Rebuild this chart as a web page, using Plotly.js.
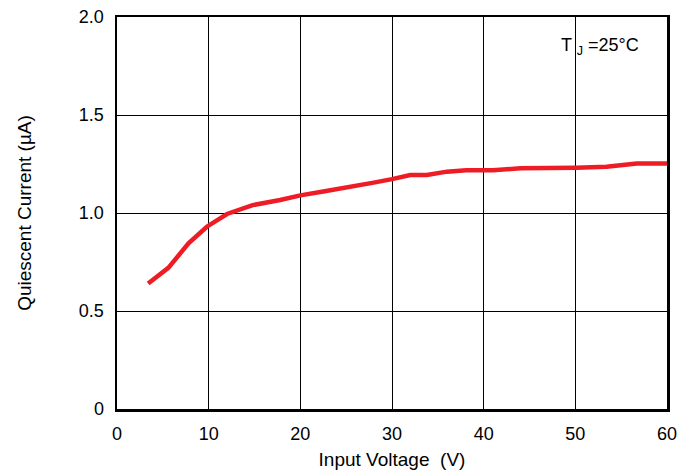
<!DOCTYPE html>
<html>
<head>
<meta charset="utf-8">
<script src="https://cdn.plot.ly/plotly-3.0.1.min.js"></script>
<style>html,body{margin:0;padding:0;background:#fff;}#chart{width:689px;height:473px;}</style>
</head>
<body>
<div id="chart"></div>
<script>
const inputVoltage = [3.4, 5.6, 7.8, 9.8, 12.0, 14.8, 17.8, 20.0, 22.5, 25.4, 28.0, 30.0, 32.0, 33.8, 36.0, 38.1, 41.0, 44.0, 47.2, 50.1, 53.4, 56.7, 60.0];
const quiescentCurrent = [0.64, 0.72, 0.845, 0.93, 0.995, 1.04, 1.066, 1.09, 1.11, 1.131, 1.155, 1.173, 1.194, 1.194, 1.211, 1.218, 1.218, 1.228, 1.228, 1.231, 1.236, 1.253, 1.252];
const xTicks = [0, 10, 20, 30, 40, 50, 60];
const yTicks = [0, 0.5, 1.0, 1.5, 2.0];
const yTickText = ["0", "0.5", "1.0", "1.5", "2.0"];

const font = {family: "Liberation Sans, Arial, sans-serif", size: 18, color: "#000"};
const titleFont = {family: "Liberation Sans, Arial, sans-serif", size: 19, color: "#000"};

Plotly.newPlot("chart", [{
  x: inputVoltage, y: quiescentCurrent, type: "scatter", mode: "lines",
  line: {color: "#ee1c25", width: 4.5, shape: "linear"}, hoverinfo: "skip"
}], {
  width: 689, height: 473,
  margin: {l: 117, r: 22, t: 17, b: 64},
  paper_bgcolor: "#fff", plot_bgcolor: "#fff",
  showlegend: false,
  font: font,
  xaxis: {
    range: [0, 60], tickvals: xTicks, ticktext: xTicks.map(String),
    showgrid: true, gridcolor: "#000", gridwidth: 1, zeroline: false,
    showline: true, linecolor: "#000", linewidth: 2.5, mirror: true,
    ticks: "", ticklen: 0, tickfont: font, ticklabelstandoff: 7,
    title: {text: "Input Voltage  (V)", font: titleFont, standoff: 10}
  },
  yaxis: {
    range: [0, 2.0], tickvals: yTicks, ticktext: yTickText,
    showgrid: true, gridcolor: "#000", gridwidth: 1, zeroline: false,
    showline: true, linecolor: "#000", linewidth: 2.5, mirror: true,
    ticks: "", ticklen: 0, tickfont: font, ticklabelstandoff: 7,
    title: {text: "Quiescent Current (µA)", font: titleFont, standoff: 42}
  },
  annotations: [{
    x: 0.878, y: 0.925, xref: "paper", yref: "paper",
    text: "T <sub>J</sub> =25°C", showarrow: false, font: font,
    xanchor: "center", yanchor: "middle"
  }]
}, {staticPlot: true, displayModeBar: false});
</script>
</body>
</html>
